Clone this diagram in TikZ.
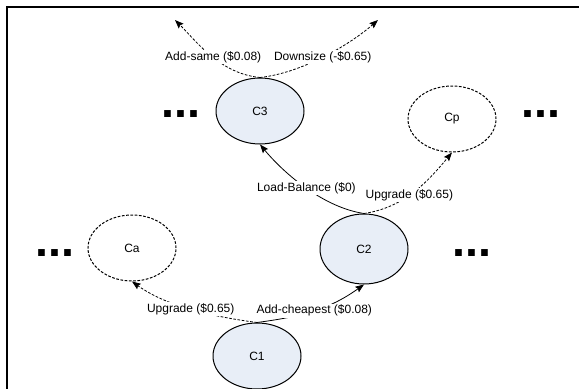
\documentclass[tikz,border=0pt]{standalone}
\usepackage{fontspec}
\setmainfont{Liberation Sans}
\usetikzlibrary{arrows.meta,shapes.geometric}
\definecolor{statefill}{RGB}{232,238,247}
\tikzset{
  config/.style={ellipse,draw,line width=.75pt,fill=statefill,inner sep=0pt,
    minimum width=66pt,minimum height=49.5pt,font=\fontsize{9}{10}\selectfont},
  ghost/.style={config,fill=white,dash pattern=on 2pt off 1.2pt},
  move/.style={line width=.6pt,-{Stealth[length=6.5pt,width=5pt,inset=1pt]}},
  trial/.style={move,dash pattern=on 2pt off 1.2pt},
  cost/.style={fill=white,inner sep=1pt,font=\fontsize{9}{10}\selectfont},
  more/.style={anchor=base,inner sep=0pt,font=\fontsize{35}{35}\bfseries\selectfont}
}
\begin{document}
\begin{tikzpicture}[x=0.75pt,y=-0.75pt]
\useasboundingbox (0,0) rectangle (579,389);
% frame
\draw[line width=1.5pt] (7,389) -- (7,7) -- (579,7);
% configurations
\node[config] (C3) at (260,111) {C3};
\node[ghost]  (Cp) at (452,119) {Cp};
\node[config,minimum height=52.5pt] (C2) at (364,249) {C2};
\node[ghost]  (Ca) at (132,248) {Ca};
\node[config] (C1) at (257,356) {C1};
\coordinate (tipA) at (175,20);
\coordinate (tipB) at (378,20);
% more states
\node[more] (moreA) at (181,117) {...};
\node[more] (moreB) at (541,117) {...};
\node[more] (moreC) at (55,256) {...};
\node[more] (moreD) at (472,256) {...};
% moves
\draw[trial] (C3.north) .. controls +(-40,-4) and +(22,22) .. node[cost,pos=.47] {Add-same (\$0.08)} (tipA);
\draw[trial] (C3.north) .. controls +(45,-5) and +(-25,22) .. node[cost,pos=.47] {Downsize (-\$0.65)} (tipB);
\draw[move] (C2.north) .. controls +(-40,-6) and +(25,30) .. node[cost,pos=.5] {Load-Balance (\$0)} (C3.south);
\draw[trial] (C2.north) .. controls +(40,-6) and +(-25,30) .. node[cost,pos=.45] {Upgrade (\$0.65)} (Cp.south);
\draw[trial] (C1.north) .. controls +(-45,-6) and +(35,25) .. node[cost,pos=.5] {Upgrade (\$0.65)} (Ca.south);
\draw[move] (C1.north) .. controls +(45,-6) and +(-35,25) .. node[cost,pos=.5] {Add-cheapest (\$0.08)} (C2.south);
\end{tikzpicture}
\end{document}
